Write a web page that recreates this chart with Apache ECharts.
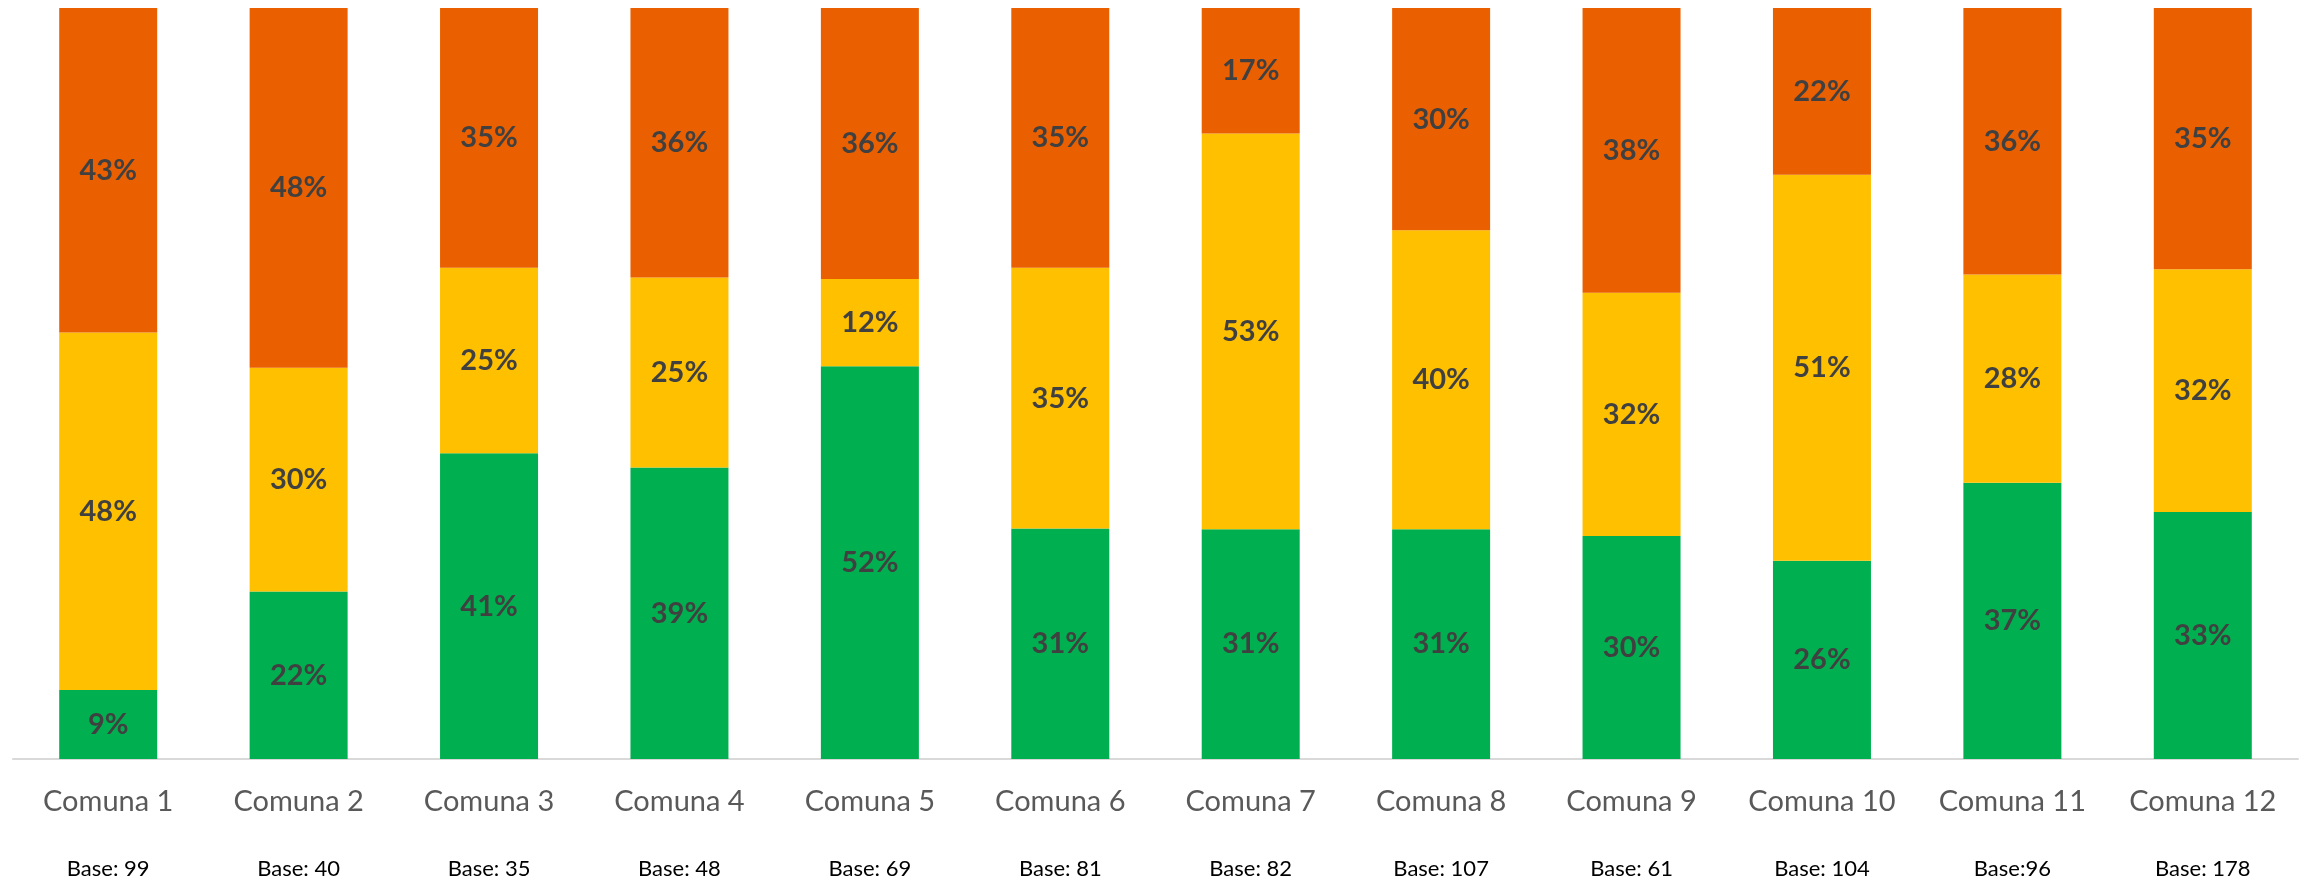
<!DOCTYPE html>
<html>
<head>
<meta charset="utf-8">
<script src="https://cdn.jsdelivr.net/npm/echarts@6/dist/echarts.min.js"></script>
<style>
html,body{margin:0;padding:0;background:#fff;}
#chart{width:2306px;height:881px;}
</style>
</head>
<body>
<div id="chart"></div>
<script>
const categories = ['Comuna 1','Comuna 2','Comuna 3','Comuna 4','Comuna 5','Comuna 6','Comuna 7','Comuna 8','Comuna 9','Comuna 10','Comuna 11','Comuna 12'];
const baseLabels = ['Base: 99','Base: 40','Base: 35','Base: 48','Base: 69','Base: 81','Base: 82','Base: 107','Base: 61','Base: 104','Base:96','Base: 178'];
const greenValues  = [9.2, 22.3, 40.7, 38.8, 52.3, 30.7, 30.6, 30.6, 29.7, 26.4, 36.8, 32.9];
const yellowValues = [47.6, 29.8, 24.7, 25.3, 11.6, 34.7, 52.7, 39.8, 32.4, 51.4, 27.7, 32.3];
const orangeValues = [43.2, 47.9, 34.6, 35.9, 36.1, 34.6, 16.7, 29.6, 37.9, 22.2, 35.5, 34.8];

const labelCfg = {
  show: true,
  position: 'inside',
  formatter: p => Math.round(p.value) + '%',
  fontFamily: 'Lato',
  fontWeight: 'bold',
  fontSize: 29,
  color: '#404040'
};

function mk(name, data, color) {
  return {
    name, type: 'bar', stack: 'total', data,
    barWidth: 98,
    itemStyle: { color },
    label: labelCfg,
    emphasis: { disabled: true }
  };
}

const chart = echarts.init(document.getElementById('chart'));
chart.setOption({
  animation: false,
  grid: { left: 13, right: 8, top: 8, bottom: 122, containLabel: false },
  xAxis: {
    type: 'category',
    data: categories,
    axisLine: { lineStyle: { color: '#d9d9d9', width: 2 } },
    axisTick: { show: false },
    axisLabel: {
      margin: 18,
      interval: 0,
      formatter: (v, i) => '{a|' + v + '}\n{b|' + baseLabels[i] + '}',
      rich: {
        a: { fontFamily: 'Lato', fontSize: 29, color: '#595959', lineHeight: 50 },
        b: { fontFamily: 'Lato', fontSize: 22, color: '#000000', lineHeight: 84 }
      }
    }
  },
  yAxis: { type: 'value', min: 0, max: 100, show: false, splitLine: { show: false } },
  series: [
    mk('Verde', greenValues, '#00B050'),
    mk('Amarillo', yellowValues, '#FFC000'),
    mk('Naranja', orangeValues, '#EA6000')
  ]
});
</script>
</body>
</html>
